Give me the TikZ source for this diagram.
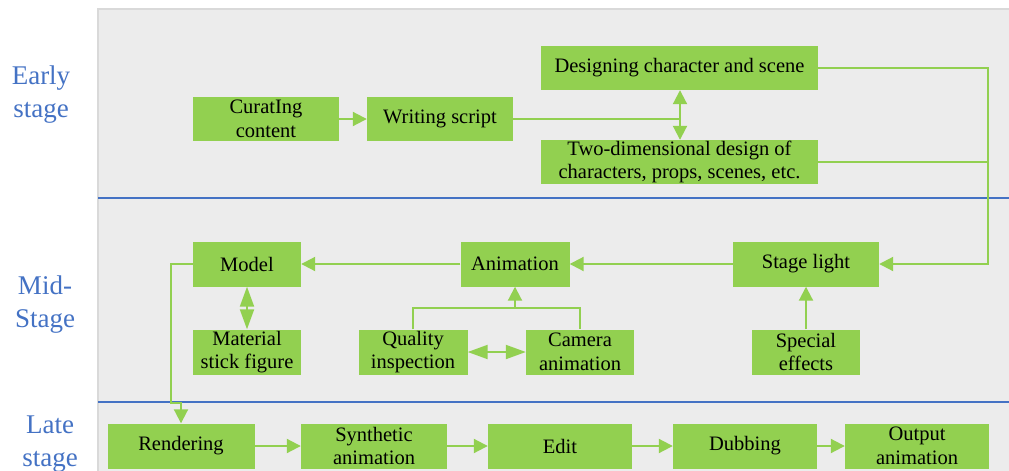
\documentclass[tikz,border=0pt]{standalone}
\usepackage{fontspec}
\setmainfont{Liberation Serif}
\usetikzlibrary{arrows.meta}
\definecolor{boxgreen}{HTML}{92D050}
\definecolor{panelgray}{HTML}{ECECEC}
\definecolor{panelborder}{HTML}{D9D9D9}
\definecolor{stageblue}{HTML}{4472C4}
\tikzset{
  stepbox/.style={fill=boxgreen, inner sep=0pt, align=center, text=black,
    font=\fontsize{20.5}{23.5}\selectfont},
  conn/.style={draw=boxgreen, line width=2pt},
  arr/.style={conn, -{Triangle[length=14pt,width=14pt]}},
  darr/.style={conn, {Triangle[length=20pt,width=14pt]}-{Triangle[length=20pt,width=14pt]}},
  stagelabel/.style={text=stageblue, align=center, inner sep=0pt,
    font=\fontsize{27}{33}\selectfont},
  divider/.style={draw=stageblue, line width=2pt}
}
\begin{document}
\begin{tikzpicture}[x=1pt,y=-1pt]
\useasboundingbox (0,0) rectangle (1009,471);
% panel
\fill[panelgray] (98,9) rectangle (1015,480);
\draw[panelborder, line width=1.5pt] (98,480) -- (98,9) -- (1015,9);
\draw[divider] (98,198) -- (1015,198);
\draw[divider] (98,402) -- (1015,402);
% stage labels
\node[stagelabel] (early) at (41,95) {Early\\stage};
\node[stagelabel] (mid) at (45,305) {Mid-\\Stage};
\node[stagelabel] (late) at (50,444) {Late\\stage};
% early nodes
\node[stepbox, minimum width=146pt, minimum height=44pt] (cur) at (266,119) {CuratIng\\content};
\node[stepbox, minimum width=146pt, minimum height=44pt] (ws) at (440,119) {Writing script};
\node[stepbox, minimum width=277pt, minimum height=44pt] (dcs) at (679.5,68) {Designing character and scene};
\node[stepbox, minimum width=277pt, minimum height=44pt] (two) at (679.5,162) {Two-dimensional design of\\characters, props, scenes, etc.};
% mid nodes
\node[stepbox, minimum width=108pt, minimum height=45pt] (model) at (247,264) {Model};
\node[stepbox, minimum width=108pt, minimum height=45pt] (mat) at (247,352) {Material\\stick figure};
\node[stepbox, minimum width=109pt, minimum height=45pt] (anim) at (515,264) {Animation};
\node[stepbox, minimum width=109pt, minimum height=45pt] (qual) at (413,352) {Quality\\inspection};
\node[stepbox, minimum width=108pt, minimum height=45pt] (cam) at (580,352) {Camera\\animation};
\node[stepbox, minimum width=146pt, minimum height=45pt] (stage) at (806,264) {Stage light};
\node[stepbox, minimum width=108pt, minimum height=45pt] (spec) at (806,352) {Special\\effects};
% late nodes
\node[stepbox, minimum width=147pt, minimum height=45pt] (rend) at (181,446) {Rendering};
\node[stepbox, minimum width=146pt, minimum height=45pt] (syn) at (374,446) {Synthetic\\animation};
\node[stepbox, minimum width=144pt, minimum height=45pt] (edit) at (560,446) {Edit};
\node[stepbox, minimum width=144pt, minimum height=45pt] (dub) at (745,446) {Dubbing};
\node[stepbox, minimum width=144pt, minimum height=45pt] (out) at (917,446) {Output\\animation};
% coordinates
\coordinate (wj) at (680,119);
\coordinate (rx) at (988,68);
\coordinate (aj) at (515,308);
\coordinate (mx) at (171,264);
\coordinate (my) at (171,403);
\coordinate (ry) at (181,403);
% early connectors
\draw[arr] (cur) -- (ws);
\draw[conn] (ws.east) -- (wj);
\draw[arr] (wj) -- (wj |- dcs.south);
\draw[arr] (wj) -- (wj |- two.north);
\draw[arr] (dcs.east) -- (rx) -- (rx |- stage.east) -- (stage.east);
\draw[conn] (two.east) -- (two.east -| rx);
% mid connectors
\draw[arr] (stage) -- (anim);
\draw[arr] (anim) -- (model);
\draw[arr] (spec) -- (stage);
\draw[darr] (model) -- (mat);
\draw[darr] (qual) -- (cam);
\draw[conn] (qual.north) -- (qual.north |- aj) -- (cam.north |- aj) -- (cam.north);
\draw[arr] (aj) -- (anim.south);
\draw[arr] (model.west) -- (mx) -- (my) -- (ry) -- (rend.north);
% late connectors
\draw[arr] (rend) -- (syn);
\draw[arr] (syn) -- (edit);
\draw[arr] (edit) -- (dub);
\draw[arr] (dub) -- (out);
\end{tikzpicture}
\end{document}
